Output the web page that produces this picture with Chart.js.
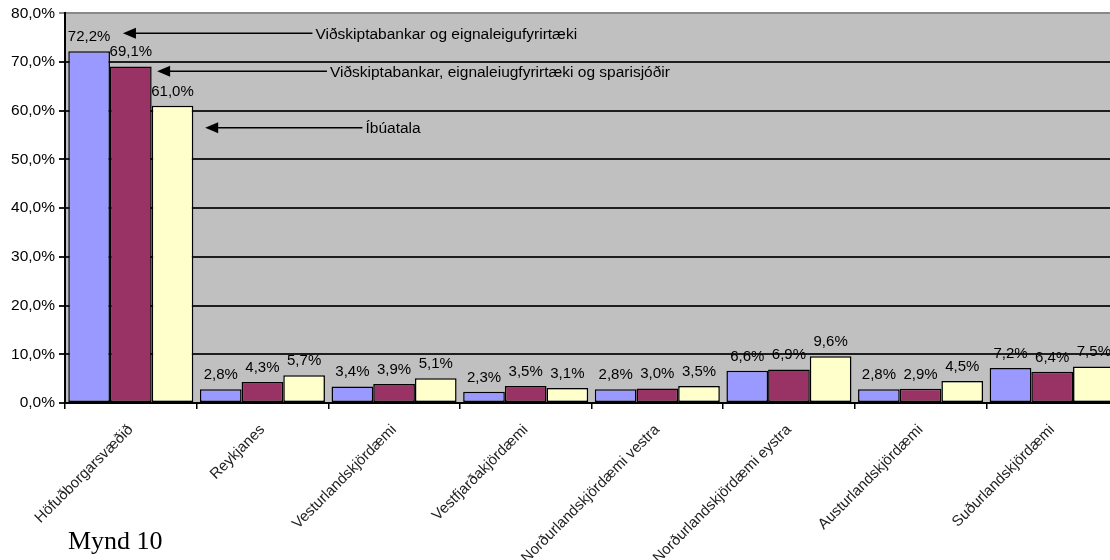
<!DOCTYPE html>
<html>
<head>
<meta charset="utf-8">
<script src="https://cdn.jsdelivr.net/npm/chart.js@4.4.1/dist/chart.umd.min.js"></script>
<style>
  html, body { margin: 0; padding: 0; background: #fff; overflow: hidden; }
  #wrap { position: relative; width: 1110px; height: 560px; overflow: hidden; }
  #chart { position: absolute; left: 0; top: 0; }
  #caption { position: absolute; left: 68px; top: 528px; font: 26px/1 "Liberation Serif", "DejaVu Serif", serif; color: #000; }
</style>
</head>
<body>
<div id="wrap">
  <canvas id="chart" width="1122" height="560"></canvas>
  <div id="caption">Mynd 10</div>
</div>
<script>
// Gögn (lesin af myndinni)
const categories = [
    'Höfuðborgarsvæðið',
    'Reykjanes',
    'Vesturlandskjördæmi',
    'Vestfjarðakjördæmi',
    'Norðurlandskjördæmi vestra',
    'Norðurlandskjördæmi eystra',
    'Austurlandskjördæmi',
    'Suðurlandskjördæmi'
];
const seriesNames = [
    'Viðskiptabankar og eignaleigufyrirtæki',
    'Viðskiptabankar, eignaleiugfyrirtæki og sparisjóðir',
    'Íbúatala'
];
const bankar = [72.2, 2.8, 3.4, 2.3, 2.8, 6.6, 2.8, 7.2];
const bankarSparisjodir = [69.1, 4.3, 3.9, 3.5, 3.0, 6.9, 2.9, 6.4];
const ibuatala = [61.0, 5.7, 5.1, 3.1, 3.5, 9.6, 4.5, 7.5];
const yTicks = [0, 10, 20, 30, 40, 50, 60, 70, 80];

const fmt = v => v.toFixed(1).replace('.', ',') + '%';
const FONT = '"Liberation Sans", Arial, sans-serif';

// grár bakgrunnur teiknisvæðis
const plotBackground = {
    id: 'plotBackground',
    beforeDraw(chart) {
        const { ctx, chartArea: a } = chart;
        ctx.save();
        ctx.fillStyle = '#C0C0C0';
        ctx.fillRect(a.left, a.top, a.right - a.left, a.bottom - a.top);
        ctx.restore();
    }
};

// gildi fyrir ofan súlur
const valueLabels = {
    id: 'valueLabels',
    afterDatasetsDraw(chart) {
        const ctx = chart.ctx;
        ctx.save();
        ctx.font = '15px ' + FONT;
        ctx.fillStyle = '#000';
        ctx.textAlign = 'center';
        ctx.textBaseline = 'alphabetic';
        chart.data.datasets.forEach((ds, i) => {
            chart.getDatasetMeta(i).data.forEach((bar, j) => {
                ctx.fillText(fmt(ds.data[j]), bar.x, bar.y - 10);
            });
        });
        ctx.restore();
    }
};

// örvar með skýringum (í stað skýringarkassa)
const arrowNotes = {
    id: 'arrowNotes',
    afterDraw(chart, args, opts) {
        const { ctx, scales: { x, y } } = chart;
        ctx.save();
        ctx.strokeStyle = '#000';
        ctx.fillStyle = '#000';
        ctx.lineWidth = 1.5;
        ctx.font = '15.5px ' + FONT;
        ctx.textBaseline = 'middle';
        opts.notes.forEach((n, i) => {
            const py = y.getPixelForValue(n.at);
            const tip = x.getPixelForValue(n.from);
            const end = x.getPixelForValue(n.to);
            ctx.beginPath();
            ctx.moveTo(tip + 10, py);
            ctx.lineTo(end, py);
            ctx.stroke();
            ctx.beginPath();
            ctx.moveTo(tip, py);
            ctx.lineTo(tip + 13, py - 5.5);
            ctx.lineTo(tip + 13, py + 5.5);
            ctx.closePath();
            ctx.fill();
            ctx.fillText(seriesNames[i], end + 3, py + 1);
        });
        ctx.restore();
    }
};

new Chart(document.getElementById('chart'), {
    type: 'bar',
    data: {
        labels: categories,
        datasets: [
            { label: seriesNames[0], data: bankar, backgroundColor: '#9999FF' },
            { label: seriesNames[1], data: bankarSparisjodir, backgroundColor: '#993366' },
            { label: seriesNames[2], data: ibuatala, backgroundColor: '#FFFFCC' }
        ].map(d => Object.assign(d, {
            borderColor: '#000', borderWidth: 1.5, borderSkipped: false,
            categoryPercentage: 0.95, barPercentage: 1.0
        }))
    },
    options: {
        responsive: false,
        animation: false,
        layout: { padding: { top: 12, right: 4, left: 0, bottom: 0 } },
        plugins: {
            legend: { display: false },
            tooltip: { enabled: false },
            arrowNotes: {
                notes: [
                    { at: 75.9, from: -0.06, to: 1.38 },
                    { at: 68.1, from: 0.2, to: 1.49 },
                    { at: 56.5, from: 0.565, to: 1.76 }
                ]
            }
        },
        scales: {
            x: {
                grid: { offset: true, drawOnChartArea: false, drawTicks: true, tickLength: 6, color: '#000', lineWidth: 1.5 },
                border: { color: '#000', width: 2 },
                ticks: {
                    color: '#222', font: { family: FONT, size: 15 },
                    maxRotation: 45, minRotation: 45, autoSkip: false, padding: 12
                },
                afterFit(scale) { scale.height = 157; }
            },
            y: {
                min: 0, max: 80,
                afterBuildTicks(scale) { scale.ticks = yTicks.map(v => ({ value: v })); },
                grid: {
                    color: c => c.tick && c.tick.value === 80 ? '#8a8a8a' : '#1e1e1e',
                    lineWidth: 2, tickLength: 6, drawTicks: true
                },
                border: { color: '#000', width: 2 },
                ticks: {
                    color: '#000', font: { family: FONT, size: 15.5 }, padding: 4,
                    callback: v => fmt(v)
                },
                afterFit(scale) { scale.width = 65; }
            }
        }
    },
    plugins: [plotBackground, valueLabels, arrowNotes]
});
</script>
</body>
</html>
